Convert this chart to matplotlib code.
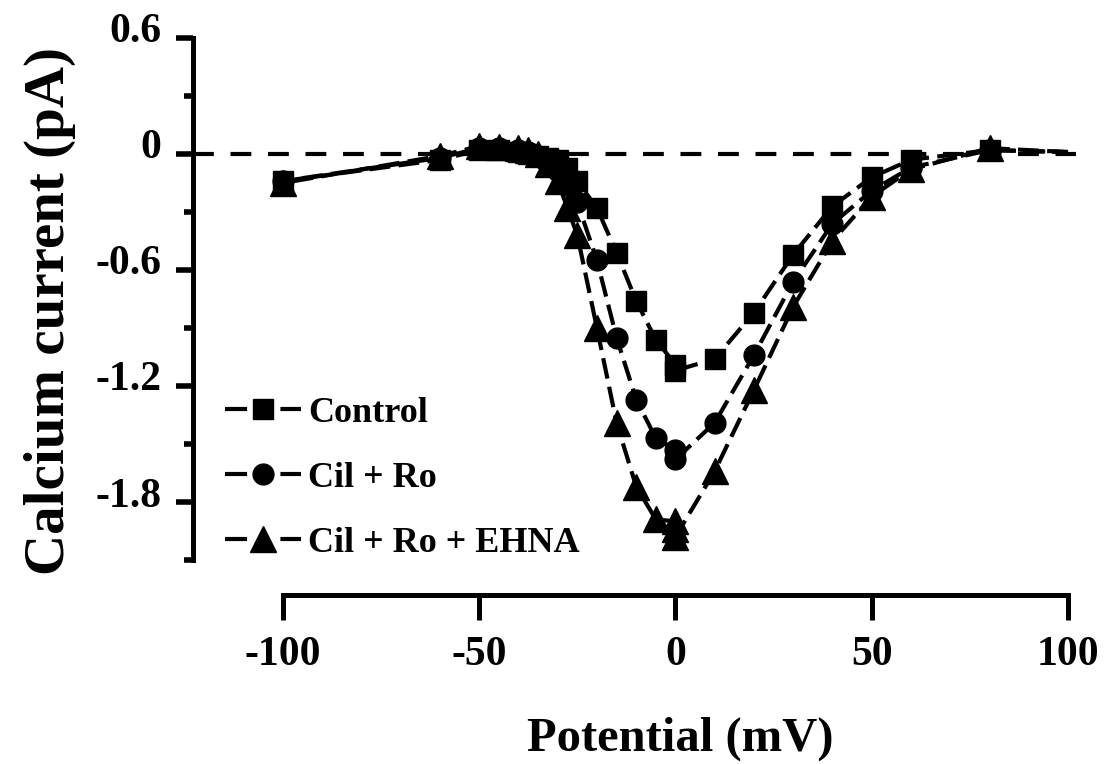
import matplotlib
matplotlib.use("Agg")
import matplotlib.pyplot as plt
import matplotlib.transforms as mtransforms
from matplotlib.lines import Line2D
from matplotlib.ticker import MultipleLocator

plt.rcParams['font.family'] = ['Liberation Serif', 'DejaVu Serif']
plt.rcParams['font.weight'] = 'bold'

# potentials (mV) and currents (pA)
ctrl_x = [-100, -60, -50, -45, -40, -37.5, -35, -32.5, -30, -27.5, -25, -20, -15, -10, -5, 0, 0, 10, 20, 30, 40, 50, 60, 80, 100]
ctrl_y = [-0.14, -0.03, 0.02, 0.02, 0.01, 0.0, -0.01, -0.02, -0.03, -0.07, -0.14, -0.28, -0.51, -0.76, -0.96, -1.09, -1.12, -1.06, -0.82, -0.52, -0.27, -0.12, -0.03, 0.02, 0.01]

cil_x = [-100, -60, -50, -45, -40, -37.5, -35, -32.5, -30, -27.5, -25, -20, -15, -10, -5, 0, 0, 10, 20, 30, 40, 50, 60, 80, 100]
cil_y = [-0.14, -0.02, 0.03, 0.03, 0.02, 0.01, -0.01, -0.04, -0.09, -0.16, -0.25, -0.55, -0.95, -1.27, -1.47, -1.53, -1.58, -1.39, -1.04, -0.66, -0.36, -0.19, -0.07, 0.02, 0.01]

ehna_x = [-100, -60, -50, -45, -40, -37.5, -35, -32.5, -30, -27.5, -25, -20, -15, -10, -5, 0, 0, 0, 10, 20, 30, 40, 50, 60, 80, 100]
ehna_y = [-0.15, -0.01, 0.04, 0.035, 0.03, 0.02, 0.0, -0.05, -0.14, -0.28, -0.42, -0.90, -1.39, -1.72, -1.89, -1.90, -1.94, -1.98, -1.64, -1.22, -0.79, -0.45, -0.22, -0.08, 0.03, 0.01]

labels = ['Control', 'Cil + Ro', 'Cil + Ro + EHNA']
xticks = [-100, -50, 0, 50, 100]
xtick_labels = ['-100', '-50', '0', '50', '100']
yticks = [0.6, 0, -0.6, -1.2, -1.8]
ytick_labels = ['0.6', '0', '-0.6', '-1.2', '-1.8']

fig = plt.figure(figsize=(11.07, 7.64), dpi=100)
ax = fig.add_axes([0.1743, 0.267, 0.7976, 0.6833])

ax.axhline(0, color='black', lw=3, dashes=(5, 4), zorder=1)

series = [(ctrl_x, ctrl_y, 's', 14, 0), (cil_x, cil_y, 'o', 15, 2.3), (ehna_x, ehna_y, '^', 19, 4.6)]
handles = []
for (xs, ys, mk, ms, off), lab in zip(series, labels):
    ln, = ax.plot(xs, ys, color='black', lw=3, marker=mk, ms=ms,
                  markevery=list(range(len(xs) - 1)), zorder=3)
    ln.set_linestyle((off, (5, 2)))
    handles.append(Line2D([], [], color='black', lw=3, marker=mk, ms=ms,
                          dashes=(5.3, 8.0)))

ax.set_xlim(-122.9, 102)
ax.set_ylim(-2.1, 0.6)

ax.spines['top'].set_visible(False)
ax.spines['right'].set_visible(False)
ax.spines['left'].set_linewidth(3.6)
ax.spines['bottom'].set_linewidth(3.6)
ax.spines['left'].set_bounds(-2.1, 0.6)
ax.spines['bottom'].set_bounds(-100, 100)
ax.spines['bottom'].set_position(('outward', 25))

ax.set_xticks(xticks)
ax.set_xticklabels(xtick_labels)
ax.set_yticks(yticks)
ax.set_yticklabels(ytick_labels)
ax.yaxis.set_minor_locator(MultipleLocator(0.3))
ax.tick_params(axis='x', length=18, width=3.6, pad=12, labelsize=30)
ax.tick_params(axis='y', which='major', length=12, width=4, pad=11, labelsize=30)
ax.tick_params(axis='y', which='minor', length=6.5, width=4)

# y tick labels sit a little above their ticks in the original
up = mtransforms.ScaledTranslation(0, 10 / 100, fig.dpi_scale_trans)
for lbl in ax.get_yticklabels():
    lbl.set_transform(lbl.get_transform() + up)

ax.set_xlabel('Potential (mV)', fontsize=35, fontweight='bold')
ax.set_ylabel('Calcium current (pA)', fontsize=41, fontweight='bold')
ax.xaxis.set_label_coords(0.5515, -0.30)
ax.yaxis.set_label_coords(-0.133, 0.477)

ax.legend(handles, labels, loc='lower left', bbox_to_anchor=(0.036, 0.0),
          frameon=False, fontsize=26, handlelength=2.1, labelspacing=0.88,
          handletextpad=0.2, borderaxespad=0, borderpad=0)

fig.savefig('out.png', dpi=100)
